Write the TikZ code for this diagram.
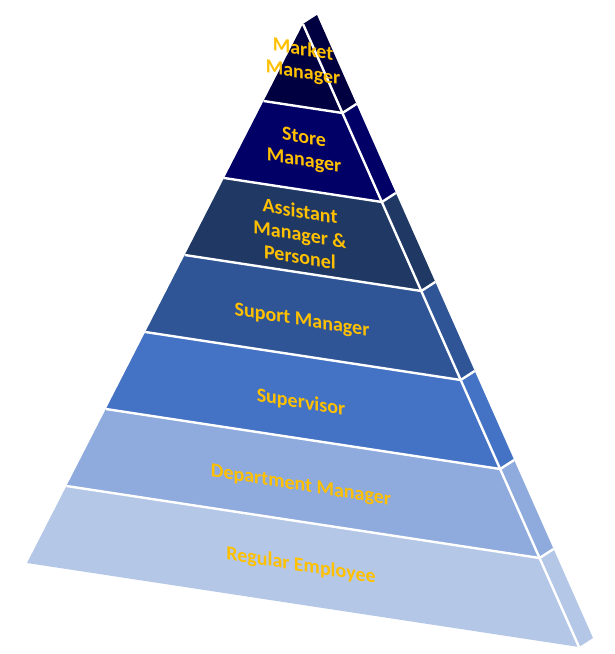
\documentclass[tikz,border=0pt]{standalone}
\usepackage{fontspec}
\setmainfont{Carlito}
\usetikzlibrary{calc}
\definecolor{tierA}{HTML}{000040}
\definecolor{tierB}{HTML}{000066}
\definecolor{tierC}{HTML}{203864}
\definecolor{tierD}{HTML}{2F5597}
\definecolor{tierE}{HTML}{4472C4}
\definecolor{tierF}{HTML}{8FAADC}
\definecolor{tierG}{HTML}{B4C7E7}
\definecolor{gold}{HTML}{FFC000}
\tikzset{
  sep/.style={draw=white, line width=2.4pt, line join=round},
  lab/.style={text=gold, font=\bfseries\fontsize{20}{23}\selectfont, align=center, yslant=-0.16, inner sep=0pt}
}
\begin{document}
\begin{tikzpicture}[x=1pt,y=-1pt]
\fill[white] (0,0) rectangle (615,654);
\useasboundingbox (0,0) rectangle (615,654);
\coordinate (A) at (303,24);
\coordinate (L) at (27,563);
\coordinate (R) at (579,647);
\foreach \k in {0,...,7} {
  \coordinate (L\k) at ($(A)!\k/7!(L)$);
  \coordinate (R\k) at ($(A)!\k/7!(R)$);
  \coordinate (S\k) at ($(R\k)+(14,-9)$);
}
\foreach \k/\c in {1/tierA,2/tierB,3/tierC,4/tierD,5/tierE,6/tierF,7/tierG} {
  \pgfmathtruncatemacro{\p}{\k-1}
  \fill[\c] (L\p) -- (R\p) -- (R\k) -- (L\k) -- cycle;
  \fill[\c] (R\p) -- (S\p) -- (S\k) -- (R\k) -- cycle;
}
\draw[sep] (A) -- (R7);
\foreach \k in {1,...,6} {
  \draw[sep] (L\k) -- (R\k) -- (S\k);
}
\node[lab] (t1) at (303,62) {Market\\Manager};
\node[lab] (t2) at (304,150) {Store\\Manager};
\node[lab] (t3) at (300,234) {Assistant\\Manager \&\\Personel};
\node[lab] (t4) at (302,321) {Suport Manager};
\node[lab] (t5) at (301,403) {Supervisor};
\node[lab] (t6) at (301,486) {Department Manager};
\node[lab] (t7) at (301,566) {Regular Employee};
\end{tikzpicture}
\end{document}
